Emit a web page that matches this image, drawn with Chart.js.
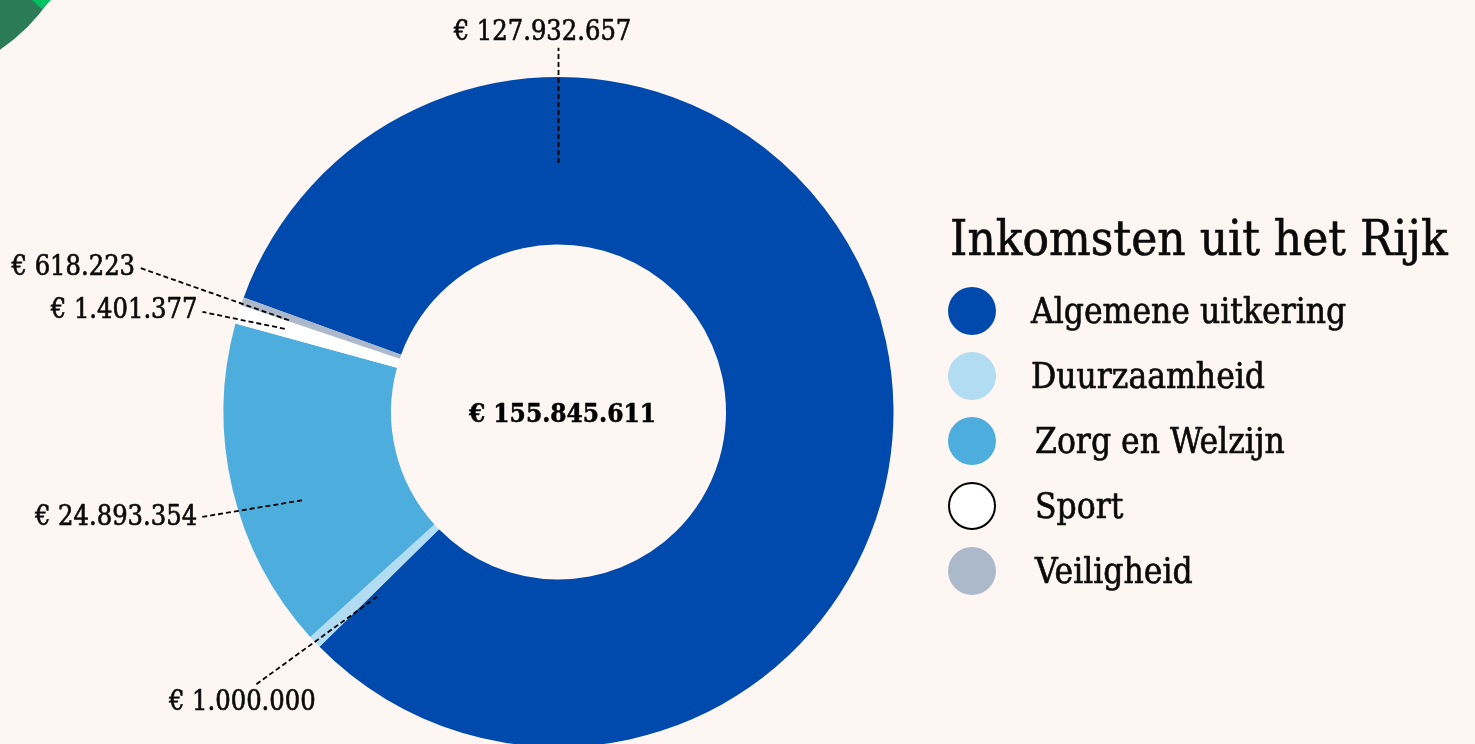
<!DOCTYPE html>
<html>
<head>
<meta charset="utf-8">
<script src="https://cdn.jsdelivr.net/npm/chart.js@4.4.1/dist/chart.umd.min.js"></script>
<style>
  html, body { margin: 0; padding: 0; background: #FDF6F3; overflow: hidden; width: 1475px; height: 744px; }
  .c { position: absolute; border-radius: 50%; }
  #wrap { position: absolute; left: 0; top: 0; width: 1475px; height: 824px; }
</style>
</head>
<body>
<div class="c" style="left:-292px; top:-292px; width:374px; height:374px; background:#2A7B56;"></div>
<div style="position:absolute; left:0; top:0; width:60px; height:20px; background:#00C261; clip-path: polygon(32px 0, 51px 0, 42px 9px);"></div>
<div id="wrap"><canvas id="chart" width="1475" height="824"></canvas></div>
<script>
// ---- data ----
const categories = ['Algemene uitkering', 'Duurzaamheid', 'Zorg en Welzijn', 'Sport', 'Veiligheid'];
const values = [127932657, 1000000, 24893354, 1401377, 618223];
const colors = ['#004AAD', '#B2DCF1', '#4DAEDD', '#FFFFFF', '#ABB9CB'];
const legendTitle = 'Inkomsten uit het Rijk';

// leader line anchors (polar, degrees from top clockwise; radius as fraction of outer radius)
const leaderInnerAngle = [0, 224.5, 251, 286.9, 288.8];
const leaderInnerRadius = [0.743, 0.773, 0.81, 0.854, 0.85];
const leaderOuterAngle = [0, 228, 253.6, 285.7, 289];
const leaderOuterRadius = [1.087, 1.218, 1.109, 1.104, 1.321];
const labelAlign = ['center', 'center', 'right', 'right', 'right'];
const labelDx = [-16, -13, -5, -5, -5];
const labelDy = [-8, 25, 8, 6, 7];

const FAM = "'DejaVu Serif Condensed', 'DejaVu Serif', serif";

function fmt(n) {
  const s = String(Math.round(n));
  return '€ ' + s.replace(/\B(?=(\d{3})+(?!\d))/g, '.');
}
const total = values.reduce((a, b) => a + b, 0);

function heavyText(ctx, txt, x, y, w) {
  ctx.lineWidth = w;
  ctx.strokeStyle = ctx.fillStyle;
  ctx.lineJoin = 'round';
  ctx.strokeText(txt, x, y);
  ctx.fillText(txt, x, y);
}

const overlay = {
  id: 'overlay',
  afterDraw(chart) {
    const ctx = chart.ctx;
    const meta = chart.getDatasetMeta(0);
    const arc = meta.data[0];
    const cx = arc.x, cy = arc.y, R = arc.outerRadius;
    const pt = (deg, f) => {
      const a = (deg - 90) * Math.PI / 180;
      return [cx + R * f * Math.cos(a), cy + R * f * Math.sin(a)];
    };
    ctx.save();
    // leader lines + labels
    for (let i = 0; i < values.length; i++) {
      const p1 = pt(leaderInnerAngle[i], leaderInnerRadius[i]);
      const p2 = pt(leaderOuterAngle[i], leaderOuterRadius[i]);
      ctx.beginPath();
      ctx.setLineDash([5, 3]);
      ctx.lineWidth = 1.8;
      ctx.strokeStyle = '#000';
      ctx.moveTo(p1[0], p1[1]);
      ctx.lineTo(p2[0], p2[1]);
      ctx.stroke();
      ctx.setLineDash([]);
      ctx.fillStyle = '#0a0a0a';
      ctx.font = '27px ' + FAM;
      ctx.textAlign = labelAlign[i];
      ctx.textBaseline = 'alphabetic';
      heavyText(ctx, fmt(values[i]), p2[0] + labelDx[i], p2[1] + labelDy[i], 0.6);
    }
    // center total
    ctx.font = 'bold 26px ' + FAM;
    ctx.textAlign = 'center';
    ctx.textBaseline = 'alphabetic';
    ctx.fillStyle = '#000';
    heavyText(ctx, fmt(total), cx + 4, cy + 10, 0.5);

    // legend
    ctx.textAlign = 'left';
    ctx.font = '49px ' + FAM;
    ctx.fillStyle = '#0a0a0a';
    heavyText(ctx, legendTitle, 950, 255, 0.6);
    ctx.font = '35px ' + FAM;
    for (let i = 0; i < categories.length; i++) {
      const y = 311 + 65 * i;
      ctx.beginPath();
      ctx.arc(972, y, 24, 0, Math.PI * 2);
      ctx.fillStyle = colors[i];
      ctx.fill();
      if (colors[i] === '#FFFFFF') {
        ctx.lineWidth = 2;
        ctx.strokeStyle = '#000';
        ctx.beginPath();
        ctx.arc(972, y, 23, 0, Math.PI * 2);
        ctx.stroke();
      }
      ctx.fillStyle = '#0a0a0a';
      heavyText(ctx, categories[i], i < 2 ? 1031 : 1035, y + 12, 0.6);
    }
    ctx.restore();
  }
};

new Chart(document.getElementById('chart'), {
  type: 'doughnut',
  data: {
    labels: categories,
    datasets: [{
      data: values,
      backgroundColor: colors,
      borderWidth: 0
    }]
  },
  options: {
    responsive: false,
    animation: false,
    events: [],
    rotation: -70,
    cutout: '50%',
    layout: { padding: { left: 0, right: 358, top: 77, bottom: 77 } },
    plugins: { legend: { display: false }, tooltip: { enabled: false } }
  },
  plugins: [overlay]
});
</script>
</body>
</html>
